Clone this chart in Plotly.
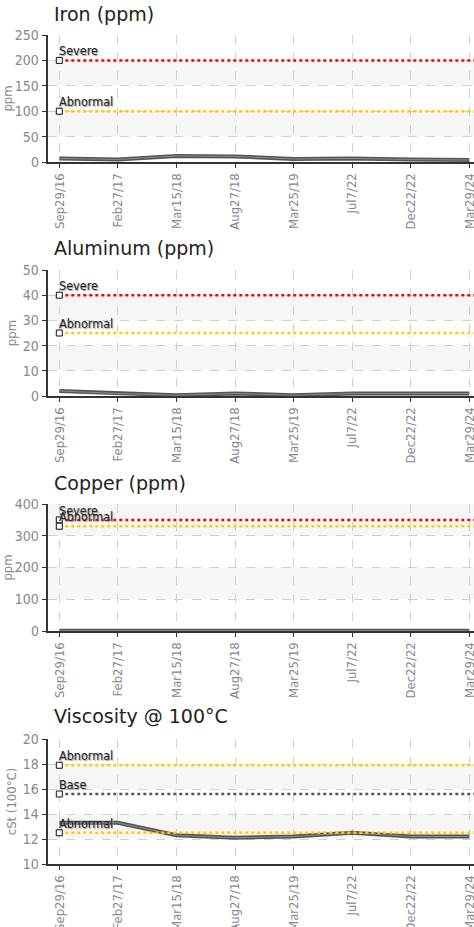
import plotly.graph_objects as go

# ---------------- data ----------------
dates = ["Sep29/16", "Feb27/17", "Mar15/18", "Aug27/18", "Mar25/19", "Jul7/22", "Dec22/22", "Mar29/24"]

iron = [7, 5, 12, 11, 6, 7, 5, 4]
aluminum = [2, 1, 0.3, 1, 0.3, 1, 1, 1]
copper = [1, 1, 1, 1, 1, 1, 1, 1]
viscosity = [13.3, 13.3, 12.3, 12.1, 12.2, 12.5, 12.2, 12.2]

iron_limits = [("Severe", 200, "#ff0000"), ("Abnormal", 100, "#ffcc00")]
aluminum_limits = [("Severe", 40, "#ff0000"), ("Abnormal", 25, "#ffcc00")]
copper_limits = [("Severe", 350, "#ff0000"), ("Abnormal", 330, "#ffcc00")]
viscosity_limits = [("Abnormal", 17.9, "#ffcc00"), ("Base", 15.6, "#555555"), ("Abnormal", 12.5, "#ffcc00")]

titles = ["Iron (ppm)", "Aluminum (ppm)", "Copper (ppm)", "Viscosity @ 100°C"]
y_titles = ["ppm", "ppm", "ppm", "cSt (100°C)"]
y_ranges = [(0, 250, 50), (0, 50, 10), (0, 400, 100), (10, 20, 2)]
series = [iron, aluminum, copper, viscosity]
limits = [iron_limits, aluminum_limits, copper_limits, viscosity_limits]

# ---------------- layout geometry (pixels) ----------------
W, H = 474, 927
plot_px = [(35, 162), (270, 396), (504, 631), (739, 864)]
title_px = [14, 248, 483, 716]
LEFT = 47.7
X_MIN = -0.198
X_MAX = len(dates) - 1 + 0.08

NARROW = "DejaVu Sans Condensed, Liberation Sans Narrow, Arial Narrow, sans-serif"

fig = go.Figure()
xs = list(range(len(dates)))

for i in range(4):
    ax = "" if i == 0 else str(i + 1)
    xref = "x" + ax
    yref = "y" + ax
    top, bot = plot_px[i]
    lo, hi, step = y_ranges[i]

    # alternating bands
    k = 0
    v = lo
    while v < hi:
        if k % 2 == 1:
            fig.add_shape(type="rect", xref=xref + " domain", yref=yref,
                          x0=0, x1=1, y0=v, y1=v + step,
                          fillcolor="#f6f6f6", line_width=0, layer="below")
        v += step
        k += 1

    # data line (dark band with lighter core)
    fig.add_trace(go.Scatter(x=xs, y=series[i], mode="lines",
                             line=dict(color="#555555", width=4),
                             xaxis=xref, yaxis=yref, showlegend=False, hoverinfo="skip"))
    fig.add_trace(go.Scatter(x=xs, y=series[i], mode="lines",
                             line=dict(color="#8a8a8a", width=1),
                             xaxis=xref, yaxis=yref, showlegend=False, hoverinfo="skip"))

    # limit lines
    for name, val, col in limits[i]:
        fig.add_trace(go.Scatter(x=[0, X_MAX], y=[val, val], mode="lines",
                                 line=dict(color=col, width=2.5, dash="dot"),
                                 xaxis=xref, yaxis=yref, showlegend=False, hoverinfo="skip"))
        fig.add_trace(go.Scatter(x=[0], y=[val], mode="markers",
                                 marker=dict(symbol="square", size=6, color="white",
                                             line=dict(color="#111111", width=1)),
                                 xaxis=xref, yaxis=yref, showlegend=False, hoverinfo="skip"))
        fig.add_annotation(x=0, y=val, xref=xref, yref=yref, text=name,
                           showarrow=False, xanchor="left", yanchor="bottom",
                           xshift=-2, yshift=0,
                           font=dict(family=NARROW, size=12.5, color="#222222",
                                     shadow="1px 1px 1px #999999"))

    # axes
    fig.update_layout(**{
        "xaxis" + ax: dict(
            domain=[LEFT / W, 1], anchor=yref, range=[X_MIN, X_MAX],
            tickmode="array", tickvals=xs, ticktext=dates, tickangle=-90,
            tickfont=dict(family=NARROW, size=13, color="#888888"),
            showgrid=True, gridcolor="#d0d0d0", griddash="dash", gridwidth=1,
            showline=True, linecolor="#333333", linewidth=2,
            ticks="outside", ticklen=4, tickcolor="#333333", zeroline=False,
            automargin=False, ticklabeloverflow="allow",
        ),
        "yaxis" + ax: dict(
            domain=[1 - bot / H, 1 - top / H], anchor=xref, range=[lo, hi],
            tickmode="linear", tick0=lo, dtick=step,
            tickfont=dict(family=NARROW, size=14, color="#888888"),
            title=dict(text=y_titles[i], font=dict(family=NARROW, size=13, color="#888888"),
                       standoff=3),
            showgrid=True, gridcolor="#d0d0d0", griddash="dash", gridwidth=1,
            showline=True, linecolor="#333333", linewidth=2,
            ticks="outside", ticklen=4, tickcolor="#333333", zeroline=False,
            automargin=False, ticklabeloverflow="allow",
        ),
    })

    fig.add_annotation(x=52 / W, y=1 - title_px[i] / H, xref="paper", yref="paper",
                       text=titles[i], showarrow=False, xanchor="left", yanchor="middle",
                       font=dict(family="DejaVu Sans", size=19, color="#222222"))

fig.update_layout(width=W, height=H, margin=dict(l=0, r=0, t=0, b=0, autoexpand=False),
                  plot_bgcolor="white", paper_bgcolor="white", showlegend=False)

fig.write_html("out.html", config={"displayModeBar": False},
               post_script="document.body.style.margin='0';document.body.style.overflow='hidden';")
